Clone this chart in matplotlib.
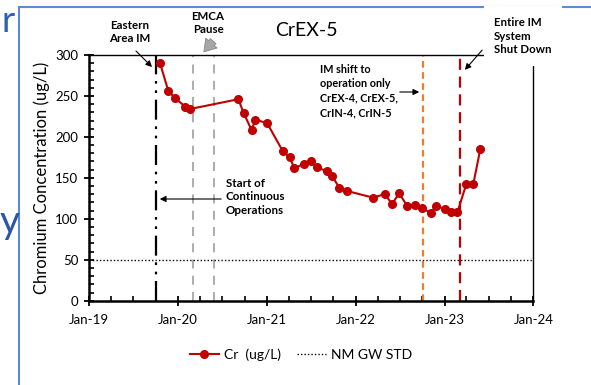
import numpy as np
import matplotlib
matplotlib.use("Agg")
import matplotlib.pyplot as plt
import matplotlib.dates as mdates
from matplotlib.lines import Line2D

# ------------------------------------------------------------
# Daten
datum = np.array([
    "2019-10-19", "2019-11-22", "2019-12-18", "2020-01-30", "2020-02-18",
    "2020-09-05", "2020-09-27", "2020-10-30", "2020-11-13", "2021-01-01",
    "2021-03-06", "2021-04-04", "2021-04-23", "2021-06-03", "2021-07-01",
    "2021-07-24", "2021-09-05", "2021-09-26", "2021-10-25", "2021-11-26",
    "2022-03-11", "2022-05-01", "2022-05-30", "2022-06-28", "2022-07-31",
    "2022-09-03", "2022-10-01", "2022-11-06", "2022-11-26", "2023-01-01",
    "2023-01-28", "2023-02-23", "2023-03-31", "2023-04-29", "2023-05-28",
], dtype="datetime64[D]")
cr = [290, 256, 248, 237, 234,
      246, 229, 208, 221, 217,
      183, 175, 162, 167, 170,
      163, 158, 152, 138, 134,
      126, 130, 118, 131, 116,
      117, 113, 107, 116, 112,
      108, 108, 142, 142, 185]

nm_gw_std = 50

eastern_im = np.datetime64("2019-10-03")
emca_pause = np.array(["2020-03-01", "2020-05-29"], dtype="datetime64[D]")
im_shift = np.datetime64("2022-10-03")
shut_down = np.datetime64("2023-03-05")

x_start = np.datetime64("2019-01-01")
x_end = np.datetime64("2024-01-01")

W, H = 591, 385


def px(x, y):
    # Pixel (oben links) -> Figure-Fraction
    return (x / W, 1 - y / H)


plt.rcParams["font.family"] = ["Lato", "DejaVu Sans"]

fig = plt.figure(figsize=(W / 100, H / 100), dpi=100)
ax = fig.add_axes([89.3 / W, 1 - 300.7 / H, (533.3 - 89.3) / W, (300.7 - 55) / H])

# ------------------------------------------------------------
# Vertikale Linien
ax.axvline(eastern_im, color="black", lw=1.6, dashes=(9, 3, 1.2, 3, 1.2, 3), zorder=2)
for d in emca_pause:
    ax.axvline(d, color="#a6a6a6", lw=1.3, dashes=(5, 4), zorder=2)
ax.axvline(im_shift, color="#ed7d31", lw=1.6, dashes=(3, 2), zorder=2)
ax.axvline(shut_down, color="#c00000", lw=1.6, dashes=(5, 3), zorder=2)

# Grenzwert
l_std = ax.axhline(nm_gw_std, color="black", lw=1.0, ls=(0, (1, 1.5)),
                   label="NM GW STD", zorder=2)

# Messwerte
l_cr, = ax.plot(datum.astype(object), cr, color="#c00000", lw=1.5,
                marker="o", markersize=5.5, label="Cr  (ug/L)", zorder=3)

# ------------------------------------------------------------
# Achsen
ax.set_xlim(x_start.astype(object), x_end.astype(object))
ax.set_ylim(0, 300)
ax.set_yticks(np.arange(0, 301, 50))
ax.set_yticks(np.arange(0, 301, 10), minor=True)
ax.xaxis.set_major_locator(mdates.YearLocator())
ax.xaxis.set_major_formatter(mdates.DateFormatter("%b-%y"))
ax.xaxis.set_minor_locator(mdates.MonthLocator(bymonth=[4, 7, 10]))

ax.tick_params(which="major", direction="inout", length=7, width=1.3, labelsize=9.5, pad=4.5)
ax.tick_params(which="minor", direction="in", length=3.5, width=1.2)
ax.tick_params(axis="x", which="major", pad=6)
for s in ["left", "bottom"]:
    ax.spines[s].set_linewidth(1.8)
for s in ["top", "right"]:
    ax.spines[s].set_linewidth(1.0)

ax.set_ylabel("Chromium Concentration (ug/L)", fontsize=12, labelpad=4)

# Titel
fig.text(*px(306, 30), "CrEX-5", fontsize=14, ha="center", va="center")

# ------------------------------------------------------------
# Annotationen
bold = dict(fontsize=8.3, fontweight="bold", linespacing=1.3)
arrow = dict(arrowstyle="-|>", color="black", lw=0.8, mutation_scale=9)

fig.text(*px(130, 32), "Eastern\nArea IM", ha="center", va="center", **bold)
ax.annotate("", xy=px(154, 69), xytext=px(134, 49), xycoords="figure fraction",
            textcoords="figure fraction", arrowprops=arrow)

fig.text(*px(208, 23), "EMCA\nPause", ha="center", va="center", **bold)
ax.annotate("", xy=px(202, 54), xytext=px(215, 39), xycoords="figure fraction",
            textcoords="figure fraction",
            arrowprops=dict(arrowstyle="simple,head_width=0.9,head_length=0.7,tail_width=0.45",
                            fc="#a6a6a6", ec="#8c8c8c", lw=0.6, mutation_scale=12))

fig.text(*px(226, 197), "Start of\nContinuous\nOperations", ha="left", va="center", **bold)
ax.annotate("", xy=px(157, 199), xytext=px(224, 199), xycoords="figure fraction",
            textcoords="figure fraction", arrowprops=arrow)

fig.text(*px(320, 91), "IM shift to\noperation only\nCrEX-4, CrEX-5,\nCrIN-4, CrIN-5",
         ha="left", va="center", fontsize=7.8, fontweight="bold", linespacing=1.4)
ax.annotate("", xy=px(422, 92), xytext=px(397, 92), xycoords="figure fraction",
            textcoords="figure fraction", arrowprops=arrow)

fig.text(*px(494, 36), "Entire IM\nSystem\nShut Down", ha="left", va="center",
         bbox=dict(facecolor="white", edgecolor="none", boxstyle="square,pad=0.9"),
         zorder=5, **bold)
ax.annotate("", xy=px(463, 72), xytext=px(484, 48), xycoords="figure fraction",
            textcoords="figure fraction", arrowprops=arrow, zorder=6)

# Legende
fig.legend(handles=[l_cr, l_std], loc="center", bbox_to_anchor=px(301, 355), ncol=2,
           frameon=False, fontsize=10, handlelength=2.1, columnspacing=1.1,
           handletextpad=0.4)

# ------------------------------------------------------------
# Rahmen und Textreste der Folie
fig.add_artist(Line2D([19 / W, 19 / W], [0, 1 - 7 / H], color="#5b8bd0", lw=1.5))
fig.add_artist(Line2D([19 / W, 1], [1 - 7 / H, 1 - 7 / H], color="#5b8bd0", lw=1.5))
fig.text(*px(1, 22), "r", fontsize=26, color="#2f5fb3", ha="left", va="center")
fig.text(*px(0, 222), "y", fontsize=28, color="#2a56a8", ha="left", va="center")

fig.savefig("out.png", dpi=100)
